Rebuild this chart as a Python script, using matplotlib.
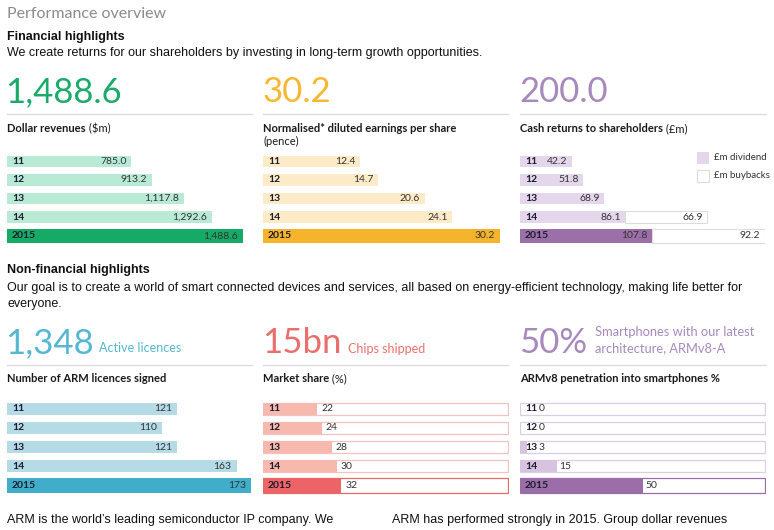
import matplotlib
matplotlib.use("Agg")
import matplotlib.pyplot as plt
from matplotlib.patches import Rectangle

# ---------------- data ----------------
years = ['11', '12', '13', '14', '2015']
revenues = [785.0, 913.2, 1117.8, 1292.6, 1488.6]
eps = [12.4, 14.7, 20.6, 24.1, 30.2]
dividends = [42.2, 51.8, 68.9, 86.1, 107.8]
buybacks = [0.0, 0.0, 0.0, 66.9, 92.2]
licences = [121, 110, 121, 163, 173]
market_share = [22, 24, 28, 30, 32]
armv8 = [0, 0, 3, 15, 50]

headline_fin = ['1,488.6', '30.2', '200.0']
headline_nonfin = ['1,348', '15bn', '50%']

W, H = 774, 530
GILL = ['Lato', 'DejaVu Sans']
ARIAL = ['Liberation Sans', 'DejaVu Sans']

fig = plt.figure(figsize=(W / 100, H / 100), dpi=100)
fig.patch.set_facecolor('white')

ov = fig.add_axes([0, 0, 1, 1], zorder=5)
ov.set_xlim(0, W)
ov.set_ylim(H, 0)
ov.axis('off')
ov.patch.set_alpha(0)


def panel_ax(x0, y0, w, h):
    ax = fig.add_axes([x0 / W, 1 - (y0 + h) / H, w / W, h / H], zorder=2)
    ax.axis('off')
    return ax


YEAR_C = '#1c1c2c'
VAL_C = '#333333'

# ---------------- header text ----------------
ov.text(7, 14, 'Performance overview', fontsize=11.5, color='#8a8a8a', family=GILL, va='center')
ov.text(7, 37, 'Financial highlights', fontsize=9, fontweight='bold', color='#111', family=ARIAL, va='center')
ov.text(7, 53, 'We create returns for our shareholders by investing in long-term growth opportunities.',
        fontsize=9, color='#111', family=ARIAL, va='center')

ov.text(7, 270, 'Non-financial highlights', fontsize=9, fontweight='bold', color='#111', family=ARIAL, va='center')
ov.text(7, 288, 'Our goal is to create a world of smart connected devices and services, all based on energy-efficient technology, making life better for',
        fontsize=9, color='#111', family=ARIAL, va='center')
ov.text(7, 304, 'everyone.', fontsize=9, color='#111', family=ARIAL, va='center')

ov.text(7, 520, 'ARM is the world\u2019s leading semiconductor IP company. We', fontsize=9, color='#111',
        family=ARIAL, va='center')
ov.text(392, 520, 'ARM has performed strongly in 2015. Group dollar revenues', fontsize=9, color='#111',
        family=ARIAL, va='center')

# ---------------- headline numbers ----------------
BIG = 25
fin_cols = ['#1aab6b', '#f7b731', '#a889bd']
for x0, txt, c in zip([5, 262, 519], headline_fin, fin_cols):
    ov.text(x0, 102, txt, fontsize=BIG, color=c, family=GILL, va='baseline')

non_cols = ['#55b8d3', '#ea6f6c', '#a889bd']
big2 = []
for x0, txt, c in zip([5, 262, 519], headline_nonfin, non_cols):
    big2.append(ov.text(x0, 353, txt, fontsize=BIG, color=c, family=GILL, va='baseline'))
ov.annotate('Active licences', xy=(1, 352), xycoords=(big2[0], 'data'), xytext=(4, 0),
            textcoords='offset points', fontsize=9, color=non_cols[0], family=GILL, va='baseline')
ov.annotate('Chips shipped', xy=(1, 353), xycoords=(big2[1], 'data'), xytext=(5, 0),
            textcoords='offset points', fontsize=9, color=non_cols[1], family=GILL, va='baseline')
ov.annotate('Smartphones with our latest', xy=(1, 336), xycoords=(big2[2], 'data'), xytext=(6, 0),
            textcoords='offset points', fontsize=9.3, color=non_cols[2], family=GILL, va='baseline')
ov.annotate('architecture, ARMv8-A', xy=(1, 352), xycoords=(big2[2], 'data'), xytext=(6, 0),
            textcoords='offset points', fontsize=9.3, color=non_cols[2], family=GILL, va='baseline')

# separators
for y in (114, 365):
    for xa, xb in ((7, 252), (263, 508), (520, 766)):
        ov.plot([xa, xb], [y, y], color='#dddddd', lw=1)

# ---------------- subtitles ----------------
def subtitle(x, y, bold, normal=''):
    t = ov.text(x, y, bold, fontsize=8, fontweight='bold', color='#1a1a1a', family=GILL, va='baseline')
    if normal:
        ov.annotate(normal, xy=(1, 0), xycoords=t, va='bottom', ha='left', fontsize=8,
                    color='#1a1a1a', family=GILL)
    return t

subtitle(7, 132, 'Dollar revenues', ' ($m)')
subtitle(263, 132, 'Normalised* diluted earnings per share')
ov.text(263, 145, '(pence)', fontsize=8, color='#1a1a1a', family=GILL, va='baseline')
subtitle(520, 132, 'Cash returns to shareholders', ' (\u00a3m)')
subtitle(7, 382, 'Number of ARM licences signed')
subtitle(263, 382, 'Market share', ' (%)')
subtitle(520, 382, 'ARMv8 penetration into smartphones %')

# ---------------- bar panels ----------------
rows = list(range(len(years)))
H_HIST, H_CUR = 0.62, 0.74
FS_YEAR, FS_VAL = 7.5, 7.5


def heights():
    return [H_HIST] * (len(years) - 1) + [H_CUR]


def year_labels(ax):
    for i, y in enumerate(years):
        ax.annotate(y, xy=(0, i), xytext=(3.5, 0), textcoords='offset points', va='center', ha='left',
                    fontsize=FS_YEAR, fontweight='bold', color=YEAR_C, family=GILL)


def setup(ax, xmax, n=len(years)):
    ax.set_xlim(0, xmax)
    ax.set_ylim(n - 0.5, -0.5)


TOP_Y, TOP_H = 152, 93
BOT_Y, BOT_H = 399, 96

# Panel 1: revenues
ax1 = panel_ax(7, TOP_Y, 245, TOP_H)
setup(ax1, 1545)
ax1.barh(rows, revenues, height=heights(), color=['#b8ead6'] * 4 + ['#16aa67'], lw=0)
year_labels(ax1)
for i, v in enumerate(revenues):
    ax1.annotate(f'{v:,.1f}', xy=(v, i), xytext=(-3.5, 0), textcoords='offset points', ha='right',
                 va='center', fontsize=FS_VAL, color=VAL_C, family=GILL)

# Panel 2: EPS
ax2 = panel_ax(263, TOP_Y, 245, TOP_H)
setup(ax2, 31.2)
ax2.barh(rows, eps, height=heights(), color=['#fdebc8'] * 4 + ['#f6b42c'], lw=0)
year_labels(ax2)
for i, v in enumerate(eps):
    ax2.annotate(f'{v:.1f}', xy=(v, i), xytext=(-3.5, 0), textcoords='offset points', ha='right',
                 va='center', fontsize=FS_VAL, color=VAL_C, family=GILL)

# Panel 3: cash returns
ax3 = panel_ax(520, TOP_Y, 245, TOP_H)
setup(ax3, 200)
ax3.barh(rows, dividends, height=heights(), color=['#e4d7eb'] * 4 + ['#9b6fa8'], lw=0)
bb_rows = [i for i, b in enumerate(buybacks) if b > 0]
ax3.barh(bb_rows, [buybacks[i] for i in bb_rows], left=[dividends[i] for i in bb_rows],
         height=[heights()[i] for i in bb_rows], color='white', edgecolor='#dcdcdc', lw=0.8)
year_labels(ax3)
for i, v in enumerate(dividends):
    ax3.annotate(f'{v:.1f}', xy=(v, i), xytext=(-3.5, 0), textcoords='offset points', ha='right',
                 va='center', fontsize=FS_VAL, color=VAL_C, family=GILL)
for i in bb_rows:
    ax3.annotate(f'{buybacks[i]:.1f}', xy=(dividends[i] + buybacks[i], i), xytext=(-3.5, 0),
                 textcoords='offset points', ha='right', va='center', fontsize=FS_VAL, color=VAL_C,
                 family=GILL)

# legend
ov.add_patch(Rectangle((697, 152), 12, 12, facecolor='#e4d7eb', edgecolor='none'))
ov.add_patch(Rectangle((697, 170), 12, 12, facecolor='white', edgecolor='#dcdcdc', lw=0.8))
ov.text(714, 158, '\u00a3m dividend', fontsize=7, color=VAL_C, family=GILL, va='center')
ov.text(714, 176, '\u00a3m buybacks', fontsize=7, color=VAL_C, family=GILL, va='center')

# Panel 4: licences
ax4 = panel_ax(7, BOT_Y, 245, BOT_H)
setup(ax4, 174)
ax4.barh(rows, licences, height=heights(), color=['#b5dbe7'] * 4 + ['#40aecb'], lw=0)
year_labels(ax4)
for i, v in enumerate(licences):
    ax4.annotate(f'{v}', xy=(v, i), xytext=(-3.5, 0), textcoords='offset points', ha='right',
                 va='center', fontsize=FS_VAL, color=VAL_C, family=GILL)

# Panel 5: market share (track to 100%)
ax5 = panel_ax(263, BOT_Y, 246, BOT_H)
setup(ax5, 100.4)
ax5.barh(rows, [100] * len(rows), height=heights(), color='white',
         edgecolor=['#f2c1c0'] * 4 + ['#e86a68'], lw=0.9)
ax5.barh(rows, market_share, height=heights(), color=['#f7b8ae'] * 4 + ['#ec6467'], lw=0)
year_labels(ax5)
for i, v in enumerate(market_share):
    ax5.annotate(f'{v}', xy=(v, i), xytext=(3, 0), textcoords='offset points', ha='left',
                 va='center', fontsize=FS_VAL, color=VAL_C, family=GILL)

# Panel 6: ARMv8 penetration (track to 100%)
ax6 = panel_ax(520, BOT_Y, 246, BOT_H)
setup(ax6, 100.4)
ax6.barh(rows, [100] * len(rows), height=heights(), color='white',
         edgecolor=['#dacde4'] * 4 + ['#9b6ea9'], lw=0.9)
ax6.barh(rows, armv8, height=heights(), color=['#d6c3e0'] * 4 + ['#9b6ea9'], lw=0)
year_labels(ax6)
for i, v in enumerate(armv8):
    ax6.annotate(f'{v}', xy=(max(v, 6.6), i), xytext=(2, 0), textcoords='offset points', ha='left',
                 va='center', fontsize=FS_VAL, color=VAL_C, family=GILL)

fig.savefig('out.png', dpi=100)
